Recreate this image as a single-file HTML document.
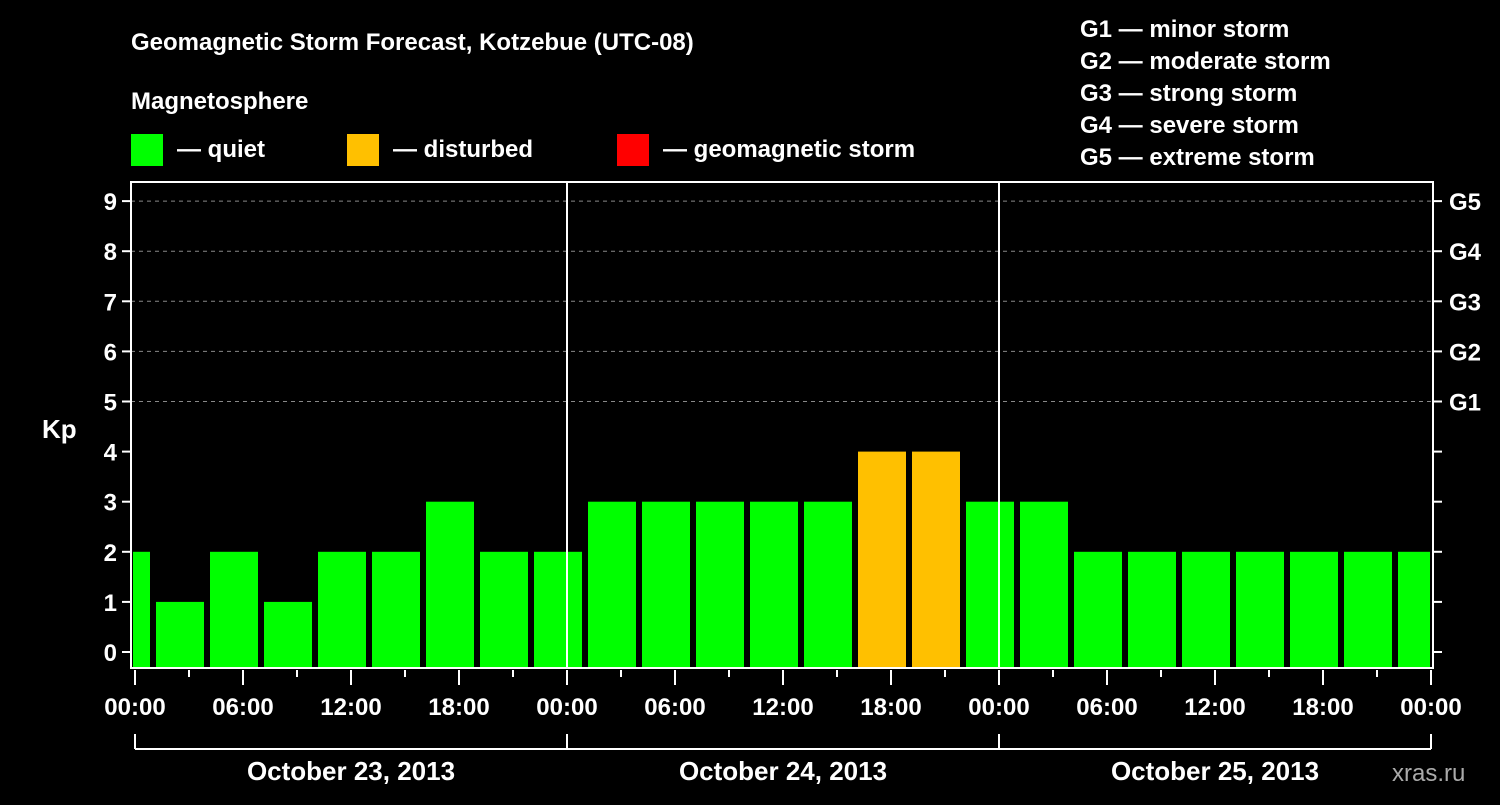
<!DOCTYPE html>
<html><head><meta charset="utf-8"><style>
body{margin:0;background:#000;width:1500px;height:800px;overflow:hidden}
svg text{font-family:"Liberation Sans",sans-serif;font-weight:bold;fill:#fff}
</style></head><body>
<svg id="c" width="1500" height="800">
<text x="131" y="50" font-size="24">Geomagnetic Storm Forecast, Kotzebue (UTC-08)</text>
<text x="131" y="109" font-size="24">Magnetosphere</text>
<rect x="131" y="134" width="32" height="32" fill="#00ff00"/>
<text x="177" y="157" font-size="24">— quiet</text>
<rect x="347" y="134" width="32" height="32" fill="#ffc000"/>
<text x="393" y="157" font-size="24">— disturbed</text>
<rect x="617" y="134" width="32" height="32" fill="#ff0000"/>
<text x="663" y="157" font-size="24">— geomagnetic storm</text>
<g font-size="24">
<text x="1080" y="37">G1 — minor storm</text>
<text x="1080" y="69">G2 — moderate storm</text>
<text x="1080" y="101">G3 — strong storm</text>
<text x="1080" y="133">G4 — severe storm</text>
<text x="1080" y="165">G5 — extreme storm</text>
</g>
<text x="42" y="438" font-size="26">Kp</text>
<text x="1392" y="781" font-size="24" fill="#aaa" style="fill:#aaa;font-weight:normal">xras.ru</text>
<g id="g"></g>
</svg>
<script>
const hours=[-0.5,2.5,5.5,8.5,11.5,14.5,17.5,20.5,23.5,26.5,29.5,32.5,35.5,38.5,41.5,44.5,47.5,50.5,53.5,56.5,59.5,62.5,65.5,68.5,71.5];
const kp=[2,1,2,1,2,2,3,2,2,3,3,3,3,3,4,4,3,3,2,2,2,2,2,2,2];
const yTicks=[0,1,2,3,4,5,6,7,8,9];
const gLabels=["G1","G2","G3","G4","G5"];
const xLabels=["00:00","06:00","12:00","18:00","00:00","06:00","12:00","18:00","00:00","06:00","12:00","18:00","00:00"];
const days=["October 23, 2013","October 24, 2013","October 25, 2013"];
const NS="http://www.w3.org/2000/svg",g=document.getElementById('g');
const L=131,R=1433,T=182,B=668;
const X=h=>135+h*18, Y=v=>652-v*50.1;
function el(t,a){const e=document.createElementNS(NS,t);for(const k in a)e.setAttribute(k,a[k]);g.appendChild(e);return e;}
// clip
const cp=el('clipPath',{id:'cp'});cp.appendChild(Object.assign(document.createElementNS(NS,'rect'),{}));
cp.firstChild.setAttribute('x',L+2);cp.firstChild.setAttribute('y',T);cp.firstChild.setAttribute('width',R-L-5);cp.firstChild.setAttribute('height',B-T);
yTicks.forEach(v=>{if(v>=5){const l=el('line',{x1:L,x2:R,y1:Y(v),y2:Y(v),stroke:'#888','stroke-dasharray':'4,4'});

}});
hours.forEach((h,i)=>{const v=kp[i];const r=el('rect',{x:X(h)-24,y:Y(v),width:48,height:B-1-Y(v),fill:v>=5?'#ff0000':v>=4?'#ffc000':'#00ff00','clip-path':'url(#cp)'});

});
[1,2].forEach(d=>el('line',{x1:X(24*d),x2:X(24*d),y1:T,y2:B,stroke:'#fff','stroke-width':2}));
const fr=el('rect',{x:L,y:T,width:R-L,height:B-T,fill:'none',stroke:'#fff','stroke-width':2});


yTicks.forEach(v=>{el('line',{x1:L-9,x2:L,y1:Y(v),y2:Y(v),stroke:'#fff','stroke-width':2});
el('line',{x1:R,x2:R+9,y1:Y(v),y2:Y(v),stroke:'#fff','stroke-width':2});
const t=el('text',{x:L-14,y:Y(v)+9,'font-size':24,'text-anchor':'end'});t.textContent=v;

});
gLabels.forEach((s,i)=>{const t=el('text',{x:1449,y:Y(5+i)+9,'font-size':24});t.textContent=s;

});
for(let h=0;h<=72;h+=3){const maj=h%6==0;el('line',{x1:X(h),x2:X(h),y1:B+2,y2:B+(maj?17:9),stroke:'#fff','stroke-width':2});}
xLabels.forEach((s,i)=>{const t=el('text',{x:X(i*6),y:715,'font-size':24,'text-anchor':'middle'});t.textContent=s;

});
el('line',{x1:X(0),x2:X(72),y1:749,y2:749,stroke:'#fff','stroke-width':2});
[0,24,48,72].forEach(h=>el('line',{x1:X(h),x2:X(h),y1:734,y2:749,stroke:'#fff','stroke-width':2}));
days.forEach((s,i)=>{const t=el('text',{x:X(i*24+12),y:780,'font-size':26,'text-anchor':'middle'});t.textContent=s;

});
</script>
</body></html>
